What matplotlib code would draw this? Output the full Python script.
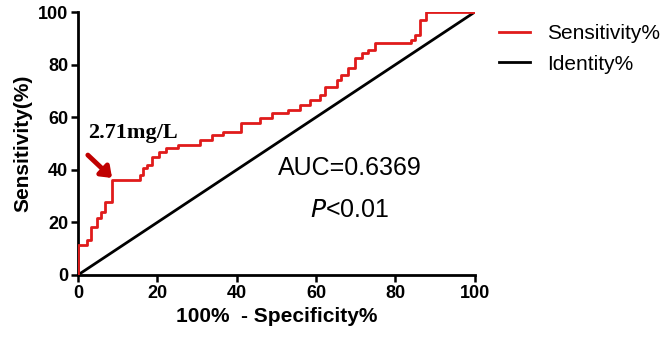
import matplotlib
matplotlib.use("Agg")
import matplotlib.pyplot as plt

plt.rcParams['font.family'] = ['Liberation Sans', 'DejaVu Sans']

# ROC curve corner points (100% - Specificity%, Sensitivity%)
fpr = [0, 0, 2.3, 3.4, 4.7, 5.7, 6.8, 8.7, 15.6, 16.5, 17.3, 18.6, 20.5, 22.3, 25.3,
       30.7, 33.7, 36.6, 41.2, 45.8, 48.8, 53.0, 55.9, 58.4, 61.0, 62.2, 65.2, 66.4,
       68.1, 69.8, 71.5, 73.1, 74.8, 84.0, 84.9, 86.1, 87.8, 100]
tpr = [0, 11.4, 13.3, 18.4, 21.6, 24.0, 27.9, 36.1, 38.0, 40.5, 41.8, 45.0, 46.9, 48.2, 49.4,
       51.3, 53.2, 54.5, 57.7, 59.6, 61.5, 62.7, 64.6, 66.5, 68.4, 71.6, 74.1, 76.0,
       78.6, 82.4, 84.3, 85.6, 88.1, 89.4, 91.3, 97.0, 100, 100]
identity = [0, 100]
xticks = [0, 20, 40, 60, 80, 100]
yticks = [0, 20, 40, 60, 80, 100]
cutoff_label = "2.71mg/L"
arrow_tail = (2.5, 45.6)
arrow_head = (8.6, 36.9)
auc_text = "AUC=0.6369"

fig = plt.figure(figsize=(6.66, 3.47), dpi=100)
ax = fig.add_axes([0.117, 0.2075, 0.596, 0.7579])

ax.plot(fpr, tpr, drawstyle='steps-post', color='#e01b1b', lw=2, label='Sensitivity%', zorder=3)
ax.plot(identity, identity, color='black', lw=2, label='Identity%', zorder=2)

ax.set_xlim(0, 100)
ax.set_ylim(0, 100)
ax.set_xticks(xticks)
ax.set_yticks(yticks)
for s in ['top', 'right']:
    ax.spines[s].set_visible(False)
for s in ['left', 'bottom']:
    ax.spines[s].set_linewidth(2)
ax.tick_params(axis='both', which='major', length=5, width=1.8, direction='out',
               labelsize=13, pad=2)
for lab in ax.get_xticklabels() + ax.get_yticklabels():
    lab.set_fontweight('bold')
ax.set_xlabel('100%  - Specificity%', fontsize=15, fontweight='bold', labelpad=4)
ax.set_ylabel('Sensitivity(%)', fontsize=15, fontweight='bold', labelpad=4)

ax.text(arrow_tail[0], 54, cutoff_label, fontsize=16, fontweight='bold',
        family=['Liberation Serif', 'DejaVu Serif'], ha='left', va='center')
ax.annotate('', xy=arrow_head, xytext=arrow_tail,
            arrowprops=dict(arrowstyle='-|>,head_width=0.45,head_length=0.6',
                            color='#c00000', lw=3.5, shrinkA=0, shrinkB=0))

ax.text(68.5, 40.7, auc_text, fontsize=18, ha='center', va='center')
ax.text(68.5, 24.7, r'$\mathit{P}$<0.01', fontsize=18, ha='center', va='center')

leg = ax.legend(loc='upper left', bbox_to_anchor=(1.04, 0.985), frameon=False,
                fontsize=15, handlelength=1.5, handletextpad=0.8, labelspacing=0.55,
                borderaxespad=0)
for line in leg.get_lines():
    line.set_linewidth(2)

fig.savefig('out.png', dpi=100)
